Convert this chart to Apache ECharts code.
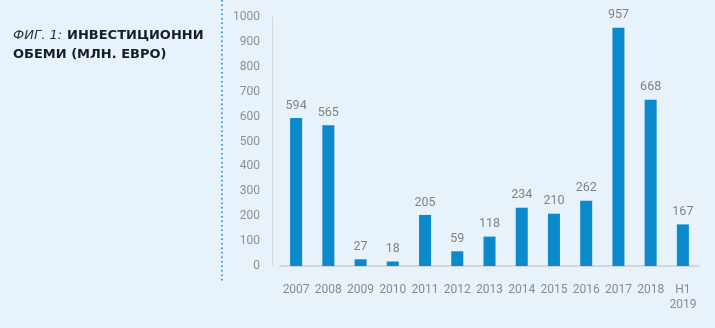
<!DOCTYPE html>
<html>
<head>
<meta charset="utf-8">
<script src="https://cdn.jsdelivr.net/npm/echarts@6/dist/echarts.min.js"></script>
<style>
html,body{margin:0;padding:0;background:#e8f2fb;}
#c{width:715px;height:328px;}
</style>
</head>
<body>
<div id="c"></div>
<script>
const categories = ['2007','2008','2009','2010','2011','2012','2013','2014','2015','2016','2017','2018','H1\n2019'];
const values = [594, 565, 27, 18, 205, 59, 118, 234, 210, 262, 957, 668, 167];
const yTicks = {min: 0, max: 1000, interval: 100};

const chart = echarts.init(document.getElementById('c'), null, {renderer: 'canvas'});
chart.setOption({
  backgroundColor: '#e8f2fb',
  animation: false,
  title: {
    left: 8, top: 21,
    text: '{a|ФИГ. 1:} {b|ИНВЕСТИЦИОННИ}\n{b|ОБЕМИ (МЛН. ЕВРО)}',
    textStyle: {
      rich: {
        a: {fontFamily: 'DejaVu Sans', fontStyle: 'italic', fontWeight: 'normal', fontSize: 13, color: '#2a3440', lineHeight: 19},
        b: {fontFamily: 'DejaVu Sans', fontWeight: 'bold', fontSize: 13, color: '#141e2a', lineHeight: 19}
      }
    }
  },
  graphic: [{
    type: 'line', shape: {x1: 222, y1: 0, x2: 222, y2: 282},
    style: {stroke: '#3aa0dc', lineWidth: 2, lineDash: [1.5, 3]}
  }],
  grid: {left: 280, right: 16, top: 17, bottom: 62},
  xAxis: {
    type: 'category', data: categories,
    axisLine: {lineStyle: {color: '#c9ced3', width: 1.5}},
    axisTick: {show: false},
    axisLabel: {color: '#858b90', fontFamily: 'Roboto', fontSize: 12, margin: 16, lineHeight: 15, interval: 0}
  },
  yAxis: {
    type: 'value', min: yTicks.min, max: yTicks.max, interval: yTicks.interval,
    offset: 8,
    axisLine: {show: true, lineStyle: {color: '#d3d8dc', width: 1}},
    axisTick: {show: false},
    splitLine: {show: false},
    axisLabel: {color: '#8a9095', fontFamily: 'Roboto', fontSize: 12, margin: 12, formatter: v => String(v)}
  },
  series: [{
    type: 'bar', data: values, barWidth: 12,
    itemStyle: {color: '#0a89cb'},
    label: {show: true, position: 'top', distance: 6, color: '#7d8388', fontFamily: 'Roboto', fontSize: 12.5}
  }]
});
</script>
</body>
</html>
